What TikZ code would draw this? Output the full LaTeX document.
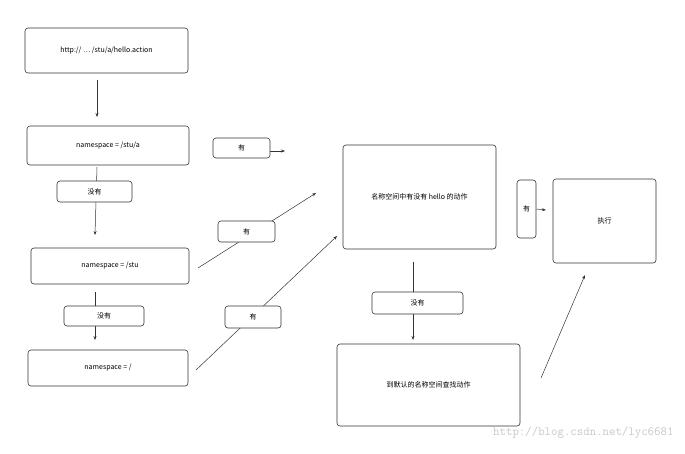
\documentclass[tikz,border=0pt]{standalone}
\usepackage{fontspec}
\setmainfont{Noto Sans CJK SC}
\usetikzlibrary{arrows.meta}
\begin{document}
\begin{tikzpicture}[x=1pt,y=-1pt,
 box/.style={draw=black!80,rounded corners=3pt,line width=0.6pt,font=\fontsize{7}{8}\selectfont,align=center},
 lbl/.style={draw=black!80,rounded corners=3pt,line width=0.6pt,fill=white,font=\fontsize{7}{8}\selectfont},
 arr/.style={-{Stealth[length=4pt,width=3pt]},line width=0.5pt,draw=black!80}]
\useasboundingbox (0,0) rectangle (685,453);
\node[box,minimum width=163pt,minimum height=45pt] (b1) at (106.5,50.5) {http:// … /stu/a/hello.action};
\node[box,minimum width=162pt,minimum height=39pt] (b2) at (108,145.5) {namespace = /stu/a};
\node[box,minimum width=158pt,minimum height=36pt] (b3) at (110,266) {namespace = /stu};
\node[box,minimum width=160pt,minimum height=36pt] (b4) at (108,368) {namespace = /};
\node[box,minimum width=153pt,minimum height=104pt] (b5) at (419.5,197) {名称空间中有没有 hello 的动作};
\node[box,minimum width=103pt,minimum height=84pt] (b6) at (604.5,221) {执行};
\node[box,minimum width=183pt,minimum height=82pt] (b7) at (428.5,385) {到默认的名称空间查找动作};
\coordinate (a1s) at (97,80); \coordinate (a1e) at (97,117);
\draw[arr] (a1s) -- (a1e);
\coordinate (a2s) at (213,151); \coordinate (a2e) at (285,151);
\draw[arr] (a2s) -- (a2e);
\node[lbl,minimum width=57pt,minimum height=20pt] (l1) at (241.5,148) {有};
\coordinate (a3s) at (97,167); \coordinate (a3e) at (95,235);
\draw[arr] (a3s) -- (a3e);
\node[lbl,minimum width=75pt,minimum height=21pt] (l2) at (94.5,191.5) {没有};
\coordinate (a4s) at (198,268); \coordinate (a4e) at (316,193);
\draw[arr] (a4s) -- (a4e);
\node[lbl,minimum width=57pt,minimum height=21pt] (l3) at (246.5,231.5) {有};
\coordinate (a5s) at (95,292); \coordinate (a5e) at (95,340);
\draw[arr] (a5s) -- (a5e);
\node[lbl,minimum width=80pt,minimum height=20pt] (l4) at (104,316) {没有};
\coordinate (a6s) at (196,370); \coordinate (a6e) at (337,236);
\draw[arr] (a6s) -- (a6e);
\node[lbl,minimum width=56pt,minimum height=22pt] (l5) at (253,317) {有};
\coordinate (a7e) at (546,210);
\node[lbl,minimum width=19pt,minimum height=58pt,inner sep=1pt] (l6) at (526.5,209) {有};
\draw[arr] (l6.east) -- (a7e);
\coordinate (a8s) at (413,262); \coordinate (a8e) at (413,340);
\draw[arr] (a8s) -- (a8e);
\node[lbl,minimum width=91pt,minimum height=22pt] (l7) at (417.5,303) {没有};
\coordinate (a9s) at (541,378); \coordinate (a9e) at (585,275);
\draw[arr] (a9s) -- (a9e);
\node[text=black!22,font=\ttfamily\fontsize{12.5}{13}\selectfont,anchor=east] (wm) at (677,433) {http://blog.csdn.net/lyc6681};
\end{tikzpicture}
\end{document}
